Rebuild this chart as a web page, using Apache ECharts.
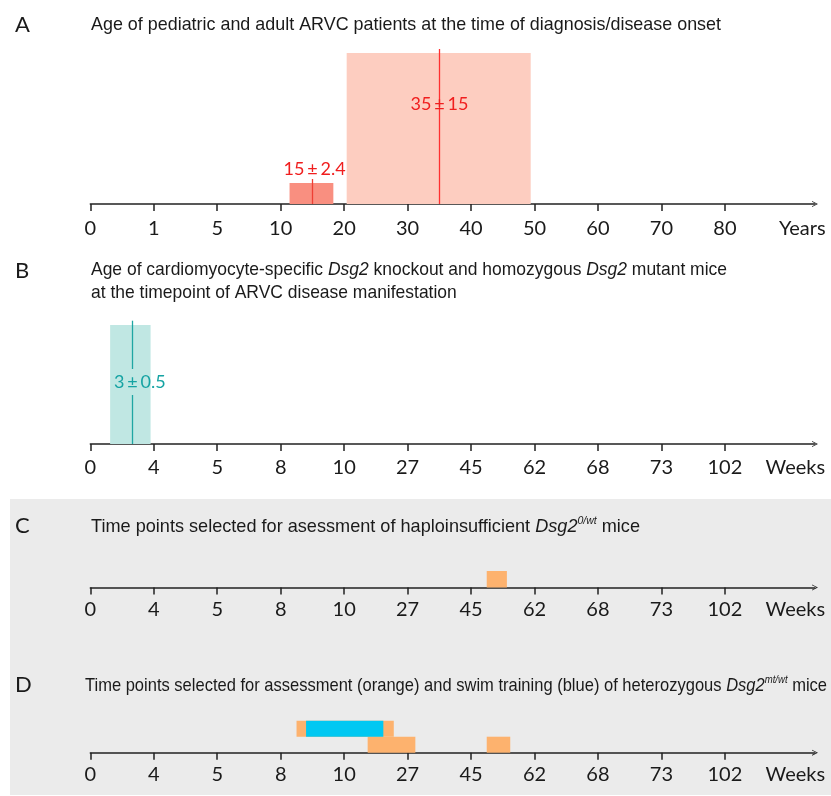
<!DOCTYPE html>
<html>
<head>
<meta charset="utf-8">
<script src="https://cdn.jsdelivr.net/npm/echarts@6/dist/echarts.min.js"></script>
<style>
	html,body{margin:0;padding:0;background:#fff;}
	#chart{width:831px;height:796px;}
</style>
</head>
<body>
<div id="chart"></div>
<script>
// tick labels of the two (non linear) time axes
var yearTicks = ['0','1','5','10','20','30','40','50','60','70','80'];
var weekTicks = ['0','4','5','8','10','27','45','62','68','73','102'];

// A - patients, years
var pedRange = [11.4, 18.3];
var pedMean = 15;
var adultRange = [20.4, 49.4];
var adultMean = 35;
// B - knockout / homozygous mice, weeks
var koRange = [1.25, 3.8];
var koMean = 2.6;
// C - haploinsufficient mice, weeks
var haploAssess = [[49.2, 54.6]];
// D - heterozygous mice, weeks (upper row / lower row)
var hetAssessUpper = [[8.5, 23.3]];
var hetSwim = [[8.8, 20.5]];
var hetAssessLower = [[16.3, 29.2], [49.2, 55.5]];

var AXIS_MAX = 11.42;

// place a real value on the axis (linear between two labelled ticks)
function pos(v, ticks){
	for(var i=1;i<ticks.length;i++){
		var a = Number(ticks[i-1]), b = Number(ticks[i]);
		if(v<=b){
			return i-1+(v-a)/(b-a);
		}
	}
	return ticks.length-1;
}

var axisColor = '#222';
function xAxisFor(idx, ticks, unit, unitPos, margin){
	var tickIdx = ticks.map(function(t,i){ return i; });
	return {
		gridIndex: idx,
		type: 'value',
		min: 0,
		max: AXIS_MAX,
		axisLine: {
			show: true,
			lineStyle: {color: axisColor, width: 1.5},
			symbol: ['none', 'path://M5,0 L10,10 L8.6,10 L5,2.6 L1.4,10 L0,10 Z'],
			symbolSize: [8, 6]
		},
		axisTick: {
			show: true,
			customValues: tickIdx,
			length: 7,
			lineStyle: {color: axisColor, width: 1.5}
		},
		axisLabel: {
			customValues: tickIdx.concat([unitPos]),
			formatter: function(v){
				return v>ticks.length-1 ? unit : ticks[Math.round(v)];
			},
			margin: margin,
			fontSize: 20,
			fontFamily: 'Lato',
			color: '#1a1a1a'
		},
		splitLine: {show: false}
	};
}

// grids: [top, axis y]
var grids = [[40,204],[300,444],[560,587.5],[715,752.7]];

function barSeries(idx, ranges, ticks, base, height, color){
	return {
		type: 'custom',
		xAxisIndex: idx,
		yAxisIndex: idx,
		data: ranges.map(function(r){ return [pos(r[0],ticks), pos(r[1],ticks)]; }),
		renderItem: function(params, api){
			var p0 = api.coord([api.value(0), base+height]);
			var p1 = api.coord([api.value(1), base]);
			return {
				type: 'rect',
				shape: {x: p0[0], y: p0[1], width: p1[0]-p0[0], height: p1[1]-p0[1]},
				style: {fill: color}
			};
		}
	};
}

function meanSeries(idx, mean, ticks, top, labelY, parts, lineColor, textColor, gap){
	return {
		type: 'custom',
		xAxisIndex: idx,
		yAxisIndex: idx,
		z: 5,
		data: [[pos(mean,ticks)]],
		renderItem: function(params, api){
			var b = api.coord([api.value(0), 0]);
			var t = api.coord([api.value(0), top]);
			var l = api.coord([api.value(0), labelY]);
			var x = Math.round(b[0])+0.5;
			var font = '18px Lato';
			var ls = {stroke: lineColor, lineWidth: 1.3, fill: null};
			var children = [];
			if(gap){
				children.push({type:'line', shape:{x1:x,y1:b[1],x2:x,y2:l[1]+gap}, style:ls});
				children.push({type:'line', shape:{x1:x,y1:l[1]-gap,x2:x,y2:t[1]}, style:ls});
			}else{
				children.push({type:'line', shape:{x1:x,y1:b[1],x2:x,y2:t[1]}, style:ls});
			}
			children.push({type:'text', style:{text:parts[0], x:x-8, y:l[1], align:'right', verticalAlign:'middle', font:font, fill:textColor}});
			children.push({type:'text', style:{text:'±', x:x, y:l[1], align:'center', verticalAlign:'middle', font:font, fill:textColor}});
			children.push({type:'text', style:{text:parts[1], x:x+8, y:l[1], align:'left', verticalAlign:'middle', font:font, fill:textColor}});
			return {type:'group', children:children};
		}
	};
}

// headings: a narrow sans is emulated by squeezing Liberation Sans
var headFont = '19px "Liberation Sans", Arial, sans-serif';
var headItalic = 'italic ' + headFont;
var supFont = 'italic 11px "Liberation Sans", Arial, sans-serif';
var headRich = {
	i: {font: headItalic, fill: '#1a1a1a'},
	sup: {font: supFont, fill: '#1a1a1a', verticalAlign: 'top'}
};
var ctx = document.createElement('canvas').getContext('2d');
function lineWidthOf(line){
	var w = 0, re = /\{(\w+)\|([^}]*)\}|([^{]+)/g, m;
	while((m = re.exec(line))){
		ctx.font = m[3] ? headFont : (m[1]=='sup' ? supFont : headItalic);
		w += ctx.measureText(m[3] || m[2]).width;
	}
	return w;
}
function heading(x, y, text, width){
	return {
		type: 'text', x: x, y: y, scaleX: width/lineWidthOf(text.split('\n')[0]),
		style: {text: text, x: 0, y: 0, font: headFont, fill: '#1a1a1a', lineHeight: 23, verticalAlign: 'middle', rich: headRich}
	};
}
function letter(y, text){
	return {
		type: 'text', x: 15, y: y,
		style: {text: text, font: '22px Lato', fill: '#1a1a1a', verticalAlign: 'middle'}
	};
}

var myChart = echarts.init(document.getElementById('chart'));
var option = {
	animation: false,
	backgroundColor: '#ffffff',
	graphic: [
		{type: 'rect', z: -10, shape: {x: 10, y: 499, width: 821, height: 296}, style: {fill: '#ebebeb'}},
		letter(25, 'A'),
		heading(91, 25, 'Age of pediatric and adult ARVC patients at the time of diagnosis/disease onset', 630),
		letter(271, 'B'),
		heading(91, 281.5, 'Age of cardiomyocyte-specific {i|Dsg2} knockout and homozygous {i|Dsg2} mutant mice\nat the timepoint of ARVC disease manifestation', 636),
		letter(526, 'C'),
		heading(91, 527, 'Time points selected for asessment of haploinsufficient {i|Dsg2}{sup|0/wt} mice', 549),
		letter(685, 'D'),
		heading(85, 686, 'Time points selected for assessment (orange) and swim training (blue) of heterozygous {i|Dsg2}{sup|mt/wt} mice', 742)
	],
	grid: grids.map(function(g){
		return {left: 90.3, width: 724.7, top: g[0], height: g[1]-g[0]};
	}),
	xAxis: [
		xAxisFor(0, yearTicks, 'Years', 11.22, 15),
		xAxisFor(1, weekTicks, 'Weeks', 11.11, 14),
		xAxisFor(2, weekTicks, 'Weeks', 11.11, 12),
		xAxisFor(3, weekTicks, 'Weeks', 11.11, 12)
	],
	yAxis: grids.map(function(g, i){
		return {gridIndex: i, type: 'value', min: 0, max: g[1]-g[0], show: false};
	}),
	series: [
		barSeries(0, [adultRange], yearTicks, 0, 151, '#fdcdc0'),
		barSeries(0, [pedRange], yearTicks, 0, 21, '#f98f80'),
		meanSeries(0, adultMean, yearTicks, 155, 100, ['35', '15'], '#ff3030', '#f01e1e', 0),
		meanSeries(0, pedMean, yearTicks, 25, 35, ['15', '2.4'], '#ee4034', '#f01e1e', 0),
		barSeries(1, [koRange], weekTicks, 0, 119, '#c0e7e3'),
		meanSeries(1, koMean, weekTicks, 123.3, 62, ['3', '0.5'], '#1fa6a3', '#15a3a3', 13),
		barSeries(2, haploAssess, weekTicks, 0, 16.5, '#fdb26e'),
		barSeries(3, hetAssessLower, weekTicks, 0, 16, '#fdb26e'),
		barSeries(3, hetAssessUpper, weekTicks, 16, 16, '#fdb26e'),
		barSeries(3, hetSwim, weekTicks, 16, 16, '#00c8f2')
	]
};
myChart.setOption(option);
</script>
</body>
</html>
